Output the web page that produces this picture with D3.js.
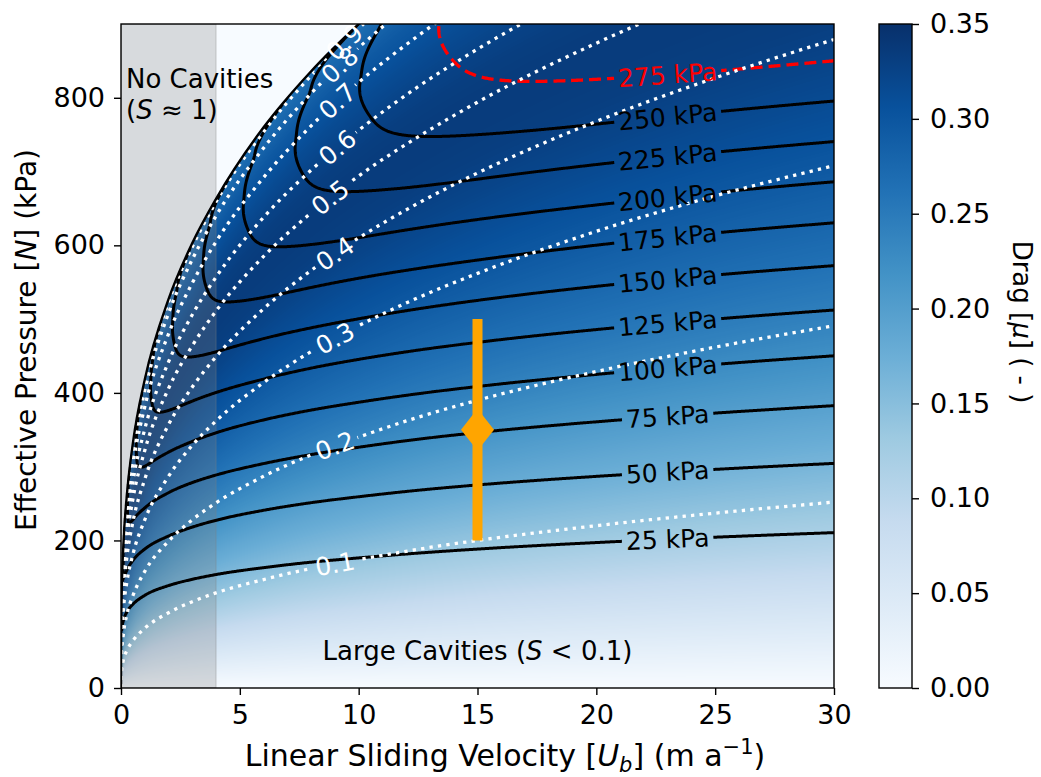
<!DOCTYPE html>
<html>
<head>
<meta charset="utf-8">
<script src="https://cdn.jsdelivr.net/npm/d3@7"></script>
<style>
  body { margin: 0; background: #fff; }
  svg text { font-family: "DejaVu Sans", sans-serif; fill: #000; }
</style>
</head>
<body>
<svg id="chart" width="1041" height="777"></svg>
<script>
var uGrid = [0, 0.002, 0.01, 0.03, 0.1, 0.25, 0.5, 1, 2, 3, 4, 6, 8, 10, 12.5, 15, 20, 25, 30];

// contact fraction levels, and effective pressure (kPa) of each level along uGrid
// (values above 900 kPa are off the top of the plot and only estimated)
var sLevels = [0.1, 0.2, 0.3, 0.4, 0.5, 0.6, 0.7, 0.8, 0.9, 1.0];
var sCurve01 = [0, 10, 17, 25, 38, 51, 64, 81, 102, 117, 129, 147, 162, 174, 188, 200, 220, 237, 252];
var sCurve02 = [0, 20, 34, 49, 73, 100, 125, 158, 199, 228, 251, 287, 316, 340, 367, 390, 429, 462, 491];
var sCurve03 = [0, 29, 49, 71, 106, 144, 181, 228, 287, 329, 362, 414, 456, 491, 529, 562, 619, 667, 708];
var sCurve04 = [0, 36, 61, 88, 131, 178, 225, 283, 357, 408, 449, 514, 566, 610, 657, 698, 768, 827, 879];
var sCurve05 = [0, 41, 69, 100, 149, 203, 256, 322, 406, 464, 511, 585, 644, 694, 747, 794, 874, 942, 1000];
var sCurve06 = [0, 44, 76, 109, 163, 221, 279, 351, 442, 506, 557, 638, 702, 756, 815, 866, 953, 1026, 1091];
var sCurve07 = [0, 48, 82, 118, 177, 240, 302, 381, 480, 549, 605, 692, 762, 821, 884, 940, 1034, 1114, 1184];
var sCurve08 = [0, 51, 87, 125, 187, 254, 320, 403, 508, 581, 640, 732, 806, 868, 935, 994, 1094, 1178, 1252];
var sCurve09 = [0, 52, 89, 129, 193, 261, 329, 415, 523, 598, 659, 754, 830, 894, 963, 1023, 1126, 1213, 1289];
var sCurve10 = [0, 53, 90, 130, 194, 263, 332, 418, 527, 603, 663, 760, 836, 900, 970, 1031, 1134, 1222, 1299];
var sCurves = [sCurve01, sCurve02, sCurve03, sCurve04, sCurve05, sCurve06, sCurve07, sCurve08, sCurve09, sCurve10];

// drag mu read against contact fraction S = 0, 0.05, ... 1
var muTable = [0, 0.072, 0.144, 0.193, 0.239, 0.272, 0.298, 0.316, 0.329, 0.334, 0.335,
               0.332, 0.325, 0.315, 0.304, 0.292, 0.28, 0.272, 0.265, 0.257, 0.25];

// basal shear stress contours (kPa)
var tauLevels = [25, 50, 75, 100, 125, 150, 175, 200, 225, 250];
var tauRed = [275];

// field observation: velocity, pressure and pressure range
var obsU = [15];
var obsN = [350];
var obsLow = [200];
var obsHigh = [500];

var xTicks = [0, 5, 10, 15, 20, 25, 30];
var yTicks = [0, 200, 400, 600, 800];
var cbTicks = [0, 0.05, 0.1, 0.15, 0.2, 0.25, 0.3, 0.35];

var pL = 121, pR = 834, pT = 24, pB = 688;
var W = pR - pL, H = pB - pT;

var svg = d3.select("#chart");
var defs = svg.append("defs");

var x = d3.scaleLinear().domain([0, 30]).range([pL, pR]);
var y = d3.scaleLinear().domain([0, 900]).range([pB, pT]);
var blues = d3.scaleLinear()
  .domain(d3.range(9).map(function(i){ return i * 0.35 / 8; }))
  .range(d3.schemeBlues[9]).clamp(true);
var muOfS = d3.interpolateBasis(muTable);

// monotone cubic through the points, same tangents as d3.curveMonotoneX
function monotone(xs, ys) {
  var n = xs.length, h = [], d = [], m = [];
  for (var k = 0; k < n - 1; k++) {
    h[k] = xs[k + 1] - xs[k];
    d[k] = h[k] ? (ys[k + 1] - ys[k]) / h[k] : 0;
  }
  for (var k = 1; k < n - 1; k++) {
    var p = (d[k - 1] * h[k] + d[k] * h[k - 1]) / (h[k - 1] + h[k]);
    m[k] = (Math.sign(d[k - 1]) + Math.sign(d[k])) *
      Math.min(Math.abs(d[k - 1]), Math.abs(d[k]), 0.5 * Math.abs(p)) || 0;
  }
  m[0] = (3 * d[0] - m[1]) / 2;
  m[n - 1] = (3 * d[n - 2] - m[n - 2]) / 2;
  return function(v) {
    if (v <= xs[0]) return ys[0];
    if (v >= xs[n - 1]) return ys[n - 1];
    var k = Math.min(n - 2, d3.bisectRight(xs, v) - 1);
    var t = (v - xs[k]) / h[k], t2 = t * t, t3 = t2 * t;
    return (2 * t3 - 3 * t2 + 1) * ys[k] + (t3 - 2 * t2 + t) * h[k] * m[k] +
      (-2 * t3 + 3 * t2) * ys[k + 1] + (t3 - t2) * h[k] * m[k + 1];
  };
}

var levelFns = sCurves.map(function(c){ return monotone(uGrid, c); });

// S as a function of N at one velocity
function sColumn(u) {
  var lv = levelFns.map(function(f){ return f(u); });
  var top = lv[lv.length - 1];
  if (!(top > 0.5)) return function(){ return 2; };
  var f = monotone([0].concat(lv), [0].concat(sLevels));
  return function(n) {
    if (n <= 0) return 0;
    if (n >= top) return 2; // no cavities
    return f(n);
  };
}

function tauAt(u, n) {
  var s = sColumn(u)(n);
  return muOfS(Math.min(s, 1)) * n;
}

// ---- heat map of drag
var lut = d3.range(351).map(function(i){ return d3.rgb(blues(i / 1000)); });
var canvas = document.createElement("canvas");
canvas.width = W; canvas.height = H;
var ctx = canvas.getContext("2d");
var img = ctx.createImageData(W, H);
for (var i = 0; i < W; i++) {
  var col = sColumn(x.invert(pL + i + 0.5));
  for (var j = 0; j < H; j++) {
    var s = col(y.invert(pT + j + 0.5));
    var mu = s > 1 ? 0 : muOfS(s);
    var c = lut[Math.max(0, Math.min(350, Math.round(mu * 1000)))];
    var p = (j * W + i) * 4;
    img.data[p] = c.r; img.data[p + 1] = c.g; img.data[p + 2] = c.b; img.data[p + 3] = 255;
  }
}
ctx.putImageData(img, 0, 0);

defs.append("clipPath").attr("id", "plotClip")
  .append("rect").attr("x", pL).attr("y", pT).attr("width", W).attr("height", H);

var boundaryPts = uGrid.map(function(u, k){ return [u, sCurve10[k]]; });
defs.append("clipPath").attr("id", "cavClip")
  .append("path")
  .attr("d", d3.area().x(function(d){ return x(d[0]); }).y0(y(0) + 20)
    .y1(function(d){ return y(d[1]); }).curve(d3.curveMonotoneX)(boundaryPts));

var plot = svg.append("g").attr("clip-path", "url(#plotClip)");
plot.append("image").attr("x", pL).attr("y", pT).attr("width", W).attr("height", H)
  .attr("preserveAspectRatio", "none")
  .attr("href", canvas.toDataURL());

// shaded band U < 4
plot.append("rect").attr("x", x(0)).attr("y", pT).attr("width", x(4) - x(0)).attr("height", H)
  .attr("fill", "#808080").attr("fill-opacity", 0.27)
  .attr("stroke", "#808080").attr("stroke-opacity", 0.3).attr("stroke-width", 1.2);

// ---- shear stress contours
var pad = 6, gw = W + 2 * pad, gh = H + 2 * pad;
var vals = new Float64Array(gw * gh);
for (var i = 0; i < gw; i++) {
  var col = sColumn(x.invert(pL + i - pad + 0.5));
  for (var j = 0; j < gh; j++) {
    var n = y.invert(pT + j - pad + 0.5);
    vals[j * gw + i] = n > 0 ? muOfS(Math.min(col(n), 1)) * n : 0;
  }
}
var contours = d3.contours().size([gw, gh]).thresholds(tauLevels.concat(tauRed))(vals);
var geo = d3.geoPath(d3.geoIdentity().translate([pL - pad, pT - pad]));

var tauMask = defs.append("mask").attr("id", "tauMask").attr("maskUnits", "userSpaceOnUse")
  .attr("x", 0).attr("y", 0).attr("width", 1041).attr("height", 777);
tauMask.append("rect").attr("width", 1041).attr("height", 777).attr("fill", "#fff");
var sMask = defs.append("mask").attr("id", "sMask").attr("maskUnits", "userSpaceOnUse")
  .attr("x", 0).attr("y", 0).attr("width", 1041).attr("height", 777);
sMask.append("rect").attr("width", 1041).attr("height", 777).attr("fill", "#fff");

var tauG = plot.append("g").attr("clip-path", "url(#cavClip)")
  .append("g").attr("mask", "url(#tauMask)");
tauG.selectAll("path").data(contours).join("path")
  .attr("d", geo)
  .attr("fill", "none")
  .attr("stroke", function(d){ return tauRed.indexOf(d.value) >= 0 ? "#ff0000" : "#000"; })
  .attr("stroke-width", function(d){ return tauRed.indexOf(d.value) >= 0 ? 3.3 : 3; })
  .attr("stroke-dasharray", function(d){ return tauRed.indexOf(d.value) >= 0 ? "12,6" : null; });

// ---- contact fraction contours
var sLine = d3.line().x(function(d){ return x(d[0]); }).y(function(d){ return y(d[1]); })
  .curve(d3.curveMonotoneX);
var sG = plot.append("g").attr("mask", "url(#sMask)");
sG.selectAll("path").data(sCurves.slice(0, 9)).join("path")
  .attr("d", function(c){ return sLine(uGrid.map(function(u, k){ return [u, c[k]]; })); })
  .attr("fill", "none").attr("stroke", "#fff").attr("stroke-width", 3.3)
  .attr("stroke-dasharray", "3.3,5.2");

plot.append("path").attr("d", sLine(boundaryPts))
  .attr("fill", "none").attr("stroke", "#000").attr("stroke-width", 2.4);

// inline labels
function addLabel(mask, u, n, ang, txt, color, size) {
  var t = plot.append("text")
    .attr("transform", "translate(" + x(u) + "," + y(n) + ") rotate(" + ang + ")")
    .attr("text-anchor", "middle").attr("dy", "0.36em")
    .style("font-size", size + "px").style("fill", color).text(txt);
  var w = t.node().getComputedTextLength() + 8;
  mask.append("rect").attr("x", -w / 2).attr("y", -size * 0.5).attr("width", w).attr("height", size)
    .attr("transform", "translate(" + x(u) + "," + y(n) + ") rotate(" + ang + ")")
    .attr("fill", "#000");
}

function angleOf(u0, n0, u1, n1) {
  return Math.atan2(y(n1) - y(n0), x(u1) - x(u0)) * 180 / Math.PI;
}

var sLabelU = [9, 9, 9, 9, 8.8, 9.1, 9.1, 9.2, 9.4];
sLevels.slice(0, 9).forEach(function(s, k){
  var u = sLabelU[k], f = levelFns[k];
  var ang = angleOf(u - 0.3, f(u - 0.3), u + 0.3, f(u + 0.3));
  addLabel(sMask, u, f(u), ang, d3.format(".1f")(s), "#fff", 25);
});

function nOnContour(u, t) {
  var col = sColumn(u);
  for (var n = 0; n <= 1300; n += 0.25) if (muOfS(Math.min(col(n), 1)) * n >= t) return n;
  return null;
}
var tauLabelU = 23;
tauLevels.concat(tauRed).forEach(function(t){
  var n = nOnContour(tauLabelU, t);
  var ang = angleOf(tauLabelU - 0.8, nOnContour(tauLabelU - 0.8, t), tauLabelU + 0.8, nOnContour(tauLabelU + 0.8, t));
  addLabel(tauMask, tauLabelU, n, ang, t + " kPa", tauRed.indexOf(t) >= 0 ? "#ff0000" : "#000", 25);
});

// observation with error bar
plot.selectAll(".obs").data(obsU).join("line").attr("class", "obs")
  .attr("x1", function(d){ return x(d); }).attr("x2", function(d){ return x(d); })
  .attr("y1", function(d, k){ return y(obsLow[k]); }).attr("y2", function(d, k){ return y(obsHigh[k]); })
  .attr("stroke", "#ffa500").attr("stroke-width", 10);
plot.selectAll(".obsMark").data(obsU).join("path").attr("class", "obsMark")
  .attr("transform", function(d, k){ return "translate(" + x(d) + "," + y(obsN[k]) + ")"; })
  .attr("d", "M0,-21L16.5,0L0,21L-16.5,0Z").attr("fill", "#ffa500");

// annotations
var ann = svg.append("g").style("font-size", "26px");
ann.append("text").attr("x", 126).attr("y", 88).text("No Cavities");
var t2 = ann.append("text").attr("x", 126).attr("y", 119);
t2.append("tspan").text("(");
t2.append("tspan").style("font-style", "italic").text("S");
t2.append("tspan").text(" \u2248 1)");
var t3 = ann.append("text").attr("x", x(15)).attr("y", 660).attr("text-anchor", "middle");
t3.append("tspan").text("Large Cavities (");
t3.append("tspan").style("font-style", "italic").text("S");
t3.append("tspan").text(" < 0.1)");

// ---- frame and axes
svg.append("rect").attr("x", pL).attr("y", pT).attr("width", W).attr("height", H)
  .attr("fill", "none").attr("stroke", "#000").attr("stroke-width", 1.4);

var xAxis = svg.append("g").attr("transform", "translate(0," + pB + ")")
  .call(d3.axisBottom(x).tickValues(xTicks).tickSize(7).tickPadding(10).tickFormat(d3.format("d")));
var yAxis = svg.append("g").attr("transform", "translate(" + pL + ",0)")
  .call(d3.axisLeft(y).tickValues(yTicks).tickSize(7).tickPadding(9).tickFormat(d3.format("d")));
[xAxis, yAxis].forEach(function(a){
  a.select(".domain").remove();
  a.selectAll("line").attr("stroke", "#000").attr("stroke-width", 1.4);
  a.selectAll("text").attr("font-family", null).style("font-size", "27px");
});

var xl = svg.append("text").attr("x", 505).attr("y", 766)
  .attr("text-anchor", "middle").style("font-size", "30px");
xl.append("tspan").text("Linear Sliding Velocity [");
xl.append("tspan").style("font-style", "italic").text("U");
xl.append("tspan").style("font-style", "italic").style("font-size", "21px").attr("dy", 6).text("b");
xl.append("tspan").attr("dy", -6).text("] (m a");
xl.append("tspan").style("font-size", "21px").attr("dy", -12).text("\u22121");
xl.append("tspan").attr("dy", 12).text(")");

var yl = svg.append("text").attr("transform", "translate(36,340) rotate(-90)")
  .attr("text-anchor", "middle").style("font-size", "28px");
yl.append("tspan").text("Effective Pressure [");
yl.append("tspan").style("font-style", "italic").text("N");
yl.append("tspan").text("] (kPa)");

// ---- colorbar
var cbL = 879, cbR = 912;
var cy = d3.scaleLinear().domain([0, 0.35]).range([pB, pT]);
var grad = defs.append("linearGradient").attr("id", "cbGrad")
  .attr("x1", 0).attr("y1", 1).attr("x2", 0).attr("y2", 0);
grad.selectAll("stop").data(d3.schemeBlues[9]).join("stop")
  .attr("offset", function(d, k){ return k / 8; }).attr("stop-color", function(d){ return d; });
svg.append("rect").attr("x", cbL).attr("y", pT).attr("width", cbR - cbL).attr("height", H)
  .attr("fill", "url(#cbGrad)").attr("stroke", "#000").attr("stroke-width", 1.4);
var cAxis = svg.append("g").attr("transform", "translate(" + cbR + ",0)")
  .call(d3.axisRight(cy).tickValues(cbTicks).tickSize(7).tickPadding(11).tickFormat(d3.format(".2f")));
cAxis.select(".domain").remove();
cAxis.selectAll("line").attr("stroke", "#000").attr("stroke-width", 1.4);
cAxis.selectAll("text").attr("font-family", null).style("font-size", "27px");

var cl = svg.append("text").attr("transform", "translate(1013,322) rotate(90)")
  .attr("text-anchor", "middle").style("font-size", "26px");
cl.append("tspan").text("Drag [");
cl.append("tspan").style("font-style", "italic").text("\u03bc");
cl.append("tspan").text("] ( - )");
</script>
</body>
</html>
